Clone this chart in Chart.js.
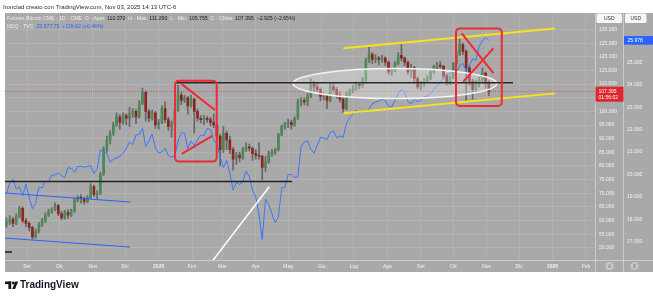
<!DOCTYPE html>
<html>
<head>
<meta charset="utf-8">
<script src="https://cdn.jsdelivr.net/npm/chart.js@4.4.1/dist/chart.umd.min.js"></script>
<style>
  html, body { margin: 0; padding: 0; background: #fff; }
  canvas { display: block; }
</style>
</head>
<body>
<canvas id="chart" width="653" height="300"></canvas>
<script>
// DATA (Futures Bitcoin CME, thousands USD, one candle per 3 days)
const firstBarDate = '2024-08-13';
const barStepDays = 3;

const opens = [
  58.8, 59.5, 60.5, 59.0, 61.5, 64.5, 60.0, 59.0, 57.5, 54.0,
  56.0, 58.5, 60.0, 62.0, 63.5, 64.0, 65.5, 62.5, 61.0, 63.0,
  62.0, 63.5, 67.5, 68.5, 68.0, 67.0, 68.5, 72.5, 69.5, 70.0,
  77.0, 86.0, 89.5, 92.0, 95.0, 98.0, 96.0, 98.5, 97.5, 99.0,
  100.0, 98.0, 103.0, 107.0, 100.0, 97.5, 99.5, 95.0, 96.0, 101.0,
  97.0, 94.5, 95.5, 100.5, 106.0, 104.0, 105.0, 102.0, 104.5, 100.0,
  97.5, 97.0, 97.5, 97.0, 96.0, 95.0, 91.0, 86.0, 92.0, 89.5,
  86.0, 82.5, 84.0, 83.0, 86.0, 87.0, 86.5, 84.5, 84.0, 83.5,
  79.5, 81.5, 84.5, 85.0, 86.0, 91.5, 94.5, 95.5, 96.0, 95.0,
  97.5, 103.5, 104.0, 103.5, 105.5, 110.0, 109.0, 108.0, 105.5, 105.8,
  104.0, 109.0, 108.0, 106.0, 104.5, 101.0, 106.0, 107.5, 108.5, 110.0,
  109.5, 111.5, 118.5, 121.0, 119.0, 119.5, 119.0, 119.5, 118.0, 114.5,
  115.0, 117.5, 120.5, 119.5, 118.0, 114.5, 116.0, 112.0, 109.0, 110.0,
  111.0, 112.0, 114.5, 116.5, 117.0, 116.5, 113.0, 110.5, 112.5, 117.5,
  121.0, 124.5, 122.0, 116.0, 111.0, 108.0, 110.0, 111.5, 114.0, 110.37
];
const highs = [
  61.0, 61.8, 61.2, 62.5, 65.2, 65.0, 60.8, 59.6, 58.0, 57.0,
  59.4, 60.8, 62.8, 64.2, 64.8, 66.5, 66.0, 63.4, 63.8, 64.0,
  64.2, 68.2, 69.2, 69.5, 68.6, 69.2, 73.5, 73.0, 71.0, 77.8,
  87.0, 91.0, 93.0, 96.0, 99.5, 98.8, 99.5, 99.2, 101.5, 101.0,
  100.8, 104.0, 108.5, 107.5, 100.8, 100.5, 100.0, 97.0, 102.0, 103.5,
  97.8, 96.5, 101.5, 109.5, 107.0, 106.0, 105.5, 106.0, 105.0, 100.8,
  98.5, 98.6, 98.2, 97.8, 99.0, 95.6, 91.5, 94.5, 92.8, 91.0,
  86.8, 85.0, 85.0, 86.8, 88.5, 88.0, 87.0, 86.0, 88.5, 84.0,
  83.5, 85.5, 86.0, 86.5, 92.0, 95.0, 96.0, 97.2, 96.8, 98.0,
  104.5, 105.0, 105.0, 106.5, 112.0, 111.0, 110.5, 108.6, 106.8, 106.0,
  110.2, 110.5, 108.8, 107.2, 105.0, 107.0, 108.2, 109.5, 110.8, 110.5,
  112.5, 119.5, 123.5, 121.5, 120.8, 120.2, 120.5, 120.0, 118.5, 116.0,
  118.2, 121.5, 124.5, 120.0, 118.5, 117.2, 116.5, 112.6, 111.0, 112.0,
  113.0, 115.2, 117.0, 118.0, 118.2, 117.0, 113.8, 113.0, 118.0, 122.5,
  126.5, 125.0, 122.6, 116.8, 111.8, 111.5, 112.5, 116.0, 114.5, 111.29
];
const lows = [
  57.5, 58.6, 57.8, 58.5, 61.0, 59.2, 57.8, 56.2, 53.2, 53.6,
  55.5, 57.8, 59.2, 61.5, 62.6, 63.5, 61.8, 60.2, 60.5, 60.8,
  61.5, 63.0, 66.8, 66.5, 66.0, 66.6, 68.0, 68.8, 67.8, 69.6,
  76.5, 85.0, 88.0, 91.2, 94.5, 93.5, 95.2, 95.0, 94.5, 97.8,
  95.5, 97.5, 102.5, 96.5, 96.2, 96.8, 93.8, 93.5, 95.5, 96.0,
  93.0, 90.5, 95.0, 100.0, 102.5, 103.2, 99.0, 101.5, 92.0, 96.5,
  95.8, 95.0, 96.0, 94.8, 94.0, 89.5, 80.0, 85.0, 86.0, 84.5,
  78.5, 80.5, 81.5, 82.5, 85.2, 85.5, 82.0, 82.5, 82.5, 75.0,
  78.0, 81.0, 83.5, 84.2, 85.5, 91.0, 93.5, 94.0, 93.5, 94.5,
  97.0, 102.0, 102.5, 102.0, 105.0, 107.0, 107.2, 103.8, 104.2, 101.0,
  103.5, 107.0, 104.8, 103.5, 99.4, 100.5, 105.5, 106.8, 107.8, 108.2,
  108.8, 111.0, 117.8, 117.5, 117.8, 117.0, 118.0, 116.8, 113.5, 113.2,
  114.5, 117.0, 118.5, 116.8, 113.5, 112.5, 110.8, 108.2, 107.8, 109.2,
  110.5, 111.5, 114.0, 115.5, 115.8, 112.0, 109.5, 109.8, 112.0, 117.0,
  120.5, 120.8, 104.0, 109.5, 104.5, 107.0, 109.0, 111.0, 108.5, 105.755
];
const closes = [
  59.5, 60.5, 59.0, 61.5, 64.5, 60.0, 59.0, 57.5, 54.0, 56.0,
  58.5, 60.0, 62.0, 63.5, 64.0, 65.5, 62.5, 61.0, 63.0, 62.0,
  63.5, 67.5, 68.5, 68.0, 67.0, 68.5, 72.5, 69.5, 70.0, 77.0,
  86.0, 89.5, 92.0, 95.0, 98.0, 96.0, 98.5, 97.5, 99.0, 100.0,
  98.0, 103.0, 107.0, 100.0, 97.5, 99.5, 95.0, 96.0, 101.0, 97.0,
  94.5, 95.5, 100.5, 106.0, 104.0, 105.0, 102.0, 104.5, 100.0, 97.5,
  97.0, 97.5, 97.0, 96.0, 95.0, 91.0, 86.0, 92.0, 89.5, 86.0,
  82.5, 84.0, 83.0, 86.0, 87.0, 86.5, 84.5, 84.0, 83.5, 79.5,
  81.5, 84.5, 85.0, 86.0, 91.5, 94.5, 95.5, 96.0, 95.0, 97.5,
  103.5, 104.0, 103.5, 105.5, 110.0, 109.0, 108.0, 105.5, 105.8, 104.0,
  109.0, 108.0, 106.0, 104.5, 101.0, 106.0, 107.5, 108.5, 110.0, 109.5,
  111.5, 118.5, 121.0, 119.0, 119.5, 119.0, 119.5, 118.0, 114.5, 115.0,
  117.5, 120.5, 119.5, 118.0, 114.5, 116.0, 112.0, 109.0, 110.0, 111.0,
  112.0, 114.5, 116.5, 117.0, 116.5, 113.0, 110.5, 112.5, 117.5, 121.0,
  124.5, 122.0, 116.0, 111.0, 108.0, 110.0, 111.5, 114.0, 110.32, 107.395
];

// NDQ (TVC), compared on its own scale
const ndq = [
  19150, 19600, 19780, 19350, 19440, 19060, 19570, 18960, 18480, 18710,
  19440, 19400, 19700, 19690, 19960, 19980, 20060, 19950, 19850, 20300,
  20270, 20100, 20350, 20360, 20320, 20350, 20400, 20030, 20250, 21100,
  21000, 20930, 20550, 20670, 20740, 20800, 20930, 21160, 21450, 21330,
  21760, 21780, 22060, 21250, 21490, 21800, 21180, 20960, 21000, 21170,
  20850, 20760, 20850, 21500, 21850, 21850, 21150, 21480, 21300, 21550,
  21760, 21720, 22050, 22000, 21550, 21350, 20800, 20300, 20630, 20050,
  19300, 19650, 19550, 19680, 20150, 19900, 19300, 19000, 18200, 17100,
  18900, 18650, 18250, 17850, 18100, 19400, 19430, 20000, 19990, 19860,
  19900, 21250, 21430, 21500, 21110, 20950, 21290, 21650, 21630, 21550,
  21860, 21950, 21630, 21720, 21650, 22250, 22530, 22680, 22870, 22720,
  22830, 22780, 22930, 23150, 23230, 23270, 23350, 23300, 23050, 23000,
  23300, 23600, 23800, 23650, 23250, 23150, 23350, 23250, 23300, 23450,
  23500, 23620, 23800, 23950, 24100, 24300, 24450, 24500, 24550, 24520,
  24850, 24950, 24600, 24850, 25150, 25100, 25700, 25950, 26100, 25977.75
];

const monthLabels = ['Set', 'Ott', 'Nov', 'Dic', '2025', 'Feb', 'Mar', 'Apr', 'Mag',
  'Giu', 'Lug', 'Ago', 'Set', 'Ott', 'Nov', 'Dic', '2026', 'Feb'];
const monthStarts = ['2024-09-01', '2024-10-01', '2024-11-01', '2024-12-01', '2025-01-01',
  '2025-02-01', '2025-03-01', '2025-04-01', '2025-05-01', '2025-06-01', '2025-07-01',
  '2025-08-01', '2025-09-01', '2025-10-01', '2025-11-01', '2025-12-01', '2026-01-01', '2026-02-01'];
const btcTicks = [50, 55, 60, 65, 70, 75, 80, 85, 90, 95, 100, 105, 110, 115, 120, 125, 130];
const ndqTicks = [17000, 18000, 19000, 20000, 21000, 22000, 23000, 24000, 25000];

// HELPERS
const FONT = '"Liberation Sans", Arial, sans-serif';
const DAY = 86400000;
const originMs = Date.parse('2024-09-01');
const toDay = s => (Date.parse(s) - originMs) / DAY;
const firstDay = toDay(firstBarDate);
const barDays = closes.map((_, i) => firstDay + i * barStepDays);
const monthDays = monthStarts.map(toDay);

function dotThousands(n) {
  return String(Math.round(n)).replace(/\B(?=(\d{3})+(?!\d))/g, '.');
}

const GRAY = '#a9a9a9';
const SEP = '#cbcbcb';
const GRID = '#b3b3b3';
const TICK_TXT = '#f3f3f3';
const UP = '#4b8a52';
const DOWN = '#8c2424';
const WICK = '#666666';
const NDQ_BLUE = '#3a76ff';

// DRAWINGS (x in days from 1 Sep 2024, y in BTC price)
const drawings = {
  ellipse: { center: [341, 110.2], radius: [94.5, 5.5] },
  lines: [
    { from: [-20.4, 74.3], to: [245.6, 74.3], color: '#222', width: 1.5 },
    { from: [-20.4, 48.5], to: [-13.9, 48.5], color: '#222', width: 1.5 },
    { from: [138, 110.5], to: [450.4, 110.5], color: '#2a2a2a', width: 1.5 },
    { from: [-20.4, 70.1], to: [95.5, 66.8], color: '#2962ff', width: 1 },
    { from: [-20.4, 53.6], to: [95.5, 50.3], color: '#2962ff', width: 1 },
    { from: [170.5, 44.5], to: [224.5, 72.4], color: '#ffffff', width: 1.5 },
    { from: [293.1, 123.1], to: [489.3, 130.4], color: '#f7e21b', width: 2 },
    { from: [293.1, 99.3], to: [489.3, 106.6], color: '#f7e21b', width: 2 },
    { from: [143.4, 110.0], to: [174.2, 100.5], color: '#ee2a36', width: 2 },
    { from: [143.4, 84.4], to: [171.7, 91.0], color: '#ee2a36', width: 2 },
    { from: [402.9, 128.6], to: [432.2, 114.0], color: '#ee2a36', width: 2 },
    { from: [404.3, 110.9], to: [432.2, 123.1], color: '#ee2a36', width: 2 }
  ],
  boxes: [
    { from: [137.2, 111.25], to: [175.8, 81.6] },
    { from: [397.6, 130.4], to: [440.0, 102.0] }
  ]
};

function roundRect(ctx, x, y, w, h, r) {
  ctx.beginPath();
  ctx.moveTo(x + r, y);
  ctx.arcTo(x + w, y, x + w, y + h, r);
  ctx.arcTo(x + w, y + h, x, y + h, r);
  ctx.arcTo(x, y + h, x, y, r);
  ctx.arcTo(x, y, x + w, y, r);
  ctx.closePath();
}

// BACKGROUND, HEADER AND LOGO
const framePlugin = {
  id: 'frame',
  beforeDraw(chart) {
    const ctx = chart.ctx;
    ctx.save();
    ctx.fillStyle = '#ffffff';
    ctx.fillRect(0, 0, 653, 300);
    ctx.fillStyle = GRAY;
    ctx.fillRect(5, 13, 648, 259);

    ctx.fillStyle = '#2b2b2b';
    ctx.font = '6px ' + FONT;
    ctx.textBaseline = 'middle';
    ctx.fillText('Ironclad creato con TradingView.com, Nov 03, 2025 14:13 UTC-6', 3, 7);

    // logo
    ctx.fillStyle = '#131722';
    ctx.fillRect(5, 281.5, 6.2, 2.6);
    ctx.fillRect(8.4, 281.5, 2.8, 7.5);
    ctx.beginPath();
    ctx.arc(13.4, 283, 1.4, 0, Math.PI * 2);
    ctx.fill();
    ctx.beginPath();
    ctx.moveTo(12.2, 289);
    ctx.lineTo(15.1, 289);
    ctx.lineTo(18.2, 281.5);
    ctx.lineTo(15.3, 281.5);
    ctx.closePath();
    ctx.fill();
    ctx.font = 'bold 10px ' + FONT;
    ctx.fillText('TradingView', 20, 285.5);
    ctx.restore();
  },
  beforeDatasetsDraw(chart) {
    // last price line
    const {ctx, chartArea: a, scales: {yA}} = chart;
    const y = Math.round(yA.getPixelForValue(closes[closes.length - 1])) + 0.5;
    ctx.save();
    ctx.strokeStyle = 'rgba(205,60,60,0.55)';
    ctx.lineWidth = 1;
    ctx.setLineDash([1, 1]);
    ctx.beginPath();
    ctx.moveTo(a.left, y);
    ctx.lineTo(a.right, y);
    ctx.stroke();
    ctx.restore();
  }
};

const drawingsPlugin = {
  id: 'drawings',
  afterDatasetsDraw(chart) {
    const {ctx, chartArea: a, scales: {x, yA}} = chart;
    const px = d => x.getPixelForValue(d);
    const py = p => yA.getPixelForValue(p);
    ctx.save();
    ctx.beginPath();
    ctx.rect(a.left, a.top, a.right - a.left, a.bottom - a.top);
    ctx.clip();

    const e = drawings.ellipse;
    const cx = px(e.center[0]), cy = py(e.center[1]);
    const rx = px(e.center[0] + e.radius[0]) - cx;
    const ry = cy - py(e.center[1] + e.radius[1]);
    ctx.beginPath();
    ctx.ellipse(cx, cy, rx, ry, 0, 0, Math.PI * 2);
    ctx.fillStyle = 'rgba(255,255,255,0.28)';
    ctx.fill();
    ctx.strokeStyle = '#f4f4f4';
    ctx.lineWidth = 1.5;
    ctx.stroke();

    drawings.lines.forEach(l => {
      ctx.beginPath();
      ctx.moveTo(px(l.from[0]), py(l.from[1]));
      ctx.lineTo(px(l.to[0]), py(l.to[1]));
      ctx.strokeStyle = l.color;
      ctx.lineWidth = l.width;
      ctx.stroke();
    });

    drawings.boxes.forEach(b => {
      const x0 = px(b.from[0]), y0 = py(b.from[1]);
      const x1 = px(b.to[0]), y1 = py(b.to[1]);
      roundRect(ctx, x0, y0, x1 - x0, y1 - y0, 4);
      ctx.strokeStyle = '#ee2a36';
      ctx.lineWidth = 2;
      ctx.stroke();
    });
    ctx.restore();
  },
  afterDraw(chart) {
    const {ctx, scales: {yA, yB}} = chart;
    ctx.save();
    ctx.textBaseline = 'middle';

    // axis separators
    ctx.strokeStyle = SEP;
    ctx.lineWidth = 1;
    ctx.beginPath();
    ctx.moveTo(5, 260.5); ctx.lineTo(653, 260.5);
    ctx.moveTo(595.5, 13); ctx.lineTo(595.5, 272);
    ctx.moveTo(623.5, 13); ctx.lineTo(623.5, 272);
    ctx.stroke();

    // USD boxes
    ctx.font = '5px ' + FONT;
    [[596.5, 25.5], [625, 21.5]].forEach(([bx, bw]) => {
      roundRect(ctx, bx, 13.5, bw, 9.5, 1.5);
      ctx.fillStyle = '#f6f6f6';
      ctx.fill();
      ctx.fillStyle = '#333';
      ctx.textAlign = 'center';
      ctx.fillText('USD', bx + bw / 2, 18.5);
    });

    // last price label (BTC)
    const lastC = closes[closes.length - 1];
    const ly = yA.getPixelForValue(lastC);
    ctx.fillStyle = '#dc2630';
    ctx.fillRect(595.5, ly - 4.5, 28, 15);
    ctx.fillStyle = '#ffffff';
    ctx.textAlign = 'left';
    ctx.fillText(lastC.toFixed(3), 598.5, ly);
    ctx.fillText('01:56:02', 598.5, ly + 6.8);

    // last value label (NDQ)
    const lastN = ndq[ndq.length - 1];
    const ny = yB.getPixelForValue(lastN);
    ctx.fillStyle = '#2962ff';
    ctx.fillRect(624, ny - 4.3, 29, 8.6);
    ctx.fillStyle = '#ffffff';
    ctx.fillText(dotThousands(lastN), 627.5, ny + 0.3);

    // A / B buttons
    [[609.5, 'A'], [634.5, 'B']].forEach(([bx, t]) => {
      ctx.beginPath();
      ctx.arc(bx, 266, 4, 0, Math.PI * 2);
      ctx.fillStyle = '#c6c6c6';
      ctx.fill();
      ctx.fillStyle = '#7a7a7a';
      ctx.textAlign = 'center';
      ctx.font = '4.5px ' + FONT;
      ctx.fillText(t, bx, 266.3);
    });

    // legend
    const light = '#eeeeee', dark = '#1c1c1c', blue = '#2a66ff';
    const fmt = v => v.toFixed(3);
    const n = closes.length - 1;
    const chg = closes[n] - closes[n - 1];
    const pct = chg / closes[n - 1] * 100;
    const line1 = [
      ['Futures Bitcoin CME · 1D · CME', light],
      ['  O · Aper. ', light], [fmt(opens[n]), dark],
      ['  H · Max. ', light], [fmt(highs[n]), dark],
      ['  L · Min. ', light], [fmt(lows[n]), dark],
      ['  C · Chius. ', light], [fmt(closes[n]), dark],
      ['  ' + fmt(chg).replace('-', '−') + ' (' + pct.toFixed(2).replace('-', '−').replace('.', ',') + '%)', dark]
    ];
    const line2 = [
      ['NDQ · TVC', light],
      ['  25.977,75', blue],
      ['  +119,62 (+0,46%)', blue]
    ];
    ctx.textAlign = 'left';
    ctx.font = '5.2px ' + FONT;
    [[line1, 18.7], [line2, 27]].forEach(([segs, ty]) => {
      let tx = 7;
      segs.forEach(([t, c]) => {
        ctx.fillStyle = c;
        ctx.fillText(t, tx, ty);
        tx += ctx.measureText(t).width;
      });
    });
    ctx.restore();
  }
};

// CHART
const ctx = document.getElementById('chart').getContext('2d');
new Chart(ctx, {
  type: 'bar',
  data: {
    datasets: [
      {
        type: 'line',
        label: 'NDQ',
        data: barDays.map((d, i) => ({ x: d, y: ndq[i] })),
        xAxisID: 'x',
        yAxisID: 'yB',
        borderColor: NDQ_BLUE,
        borderWidth: 1,
        pointRadius: 0,
        tension: 0,
        order: 1
      },
      {
        label: 'body',
        data: barDays.map((d, i) => ({ x: d, y: [opens[i], closes[i]] })),
        xAxisID: 'x',
        yAxisID: 'yA',
        backgroundColor: closes.map((c, i) => c >= opens[i] ? UP : DOWN),
        barThickness: 2,
        grouped: false,
        borderWidth: 0,
        order: 2
      },
      {
        label: 'wick',
        data: barDays.map((d, i) => ({ x: d, y: [lows[i], highs[i]] })),
        xAxisID: 'x',
        yAxisID: 'yA',
        backgroundColor: WICK,
        barThickness: 1,
        grouped: false,
        borderWidth: 0,
        order: 3
      }
    ]
  },
  options: {
    responsive: false,
    animation: false,
    devicePixelRatio: 1,
    layout: { padding: { left: 5, top: 13, right: 0, bottom: 28 } },
    plugins: { legend: { display: false }, tooltip: { enabled: false } },
    scales: {
      x: {
        type: 'linear',
        position: 'bottom',
        min: -20.4,
        max: 526.4,
        offset: false,
        afterBuildTicks: s => { s.ticks = monthDays.map(v => ({ value: v })); },
        afterFit: s => { s.height = 11.5; },
        grid: { color: GRID, lineWidth: 1, drawTicks: false, tickLength: 0, offset: false },
        border: { display: false },
        ticks: {
          padding: 3,
          maxRotation: 0,
          autoSkip: false,
          color: TICK_TXT,
          font: c => ({ size: 5, family: FONT, weight: /^\d{4}$/.test(monthLabels[c.index]) ? 'bold' : 'normal' }),
          callback: (v, i) => monthLabels[i]
        }
      },
      yA: {
        type: 'linear',
        position: 'right',
        weight: 0,
        min: 45.38,
        max: 136.04,
        afterBuildTicks: s => { s.ticks = btcTicks.map(v => ({ value: v })); },
        afterFit: s => { s.width = 28; },
        grid: { color: GRID, lineWidth: 1, drawTicks: false, tickLength: 0 },
        border: { display: false },
        ticks: {
          padding: 4,
          crossAlign: 'near',
          color: TICK_TXT,
          font: { size: 5, family: FONT },
          callback: v => v + '.000'
        }
      },
      yB: {
        type: 'linear',
        position: 'right',
        weight: 1,
        min: 16162,
        max: 27198,
        afterBuildTicks: s => { s.ticks = ndqTicks.map(v => ({ value: v })); },
        afterFit: s => { s.width = 30; },
        grid: { display: false, drawTicks: false, tickLength: 0 },
        border: { display: false },
        ticks: {
          padding: 4,
          crossAlign: 'near',
          color: TICK_TXT,
          font: { size: 5, family: FONT },
          callback: v => dotThousands(v)
        }
      }
    }
  },
  plugins: [framePlugin, drawingsPlugin]
});
</script>
</body>
</html>
